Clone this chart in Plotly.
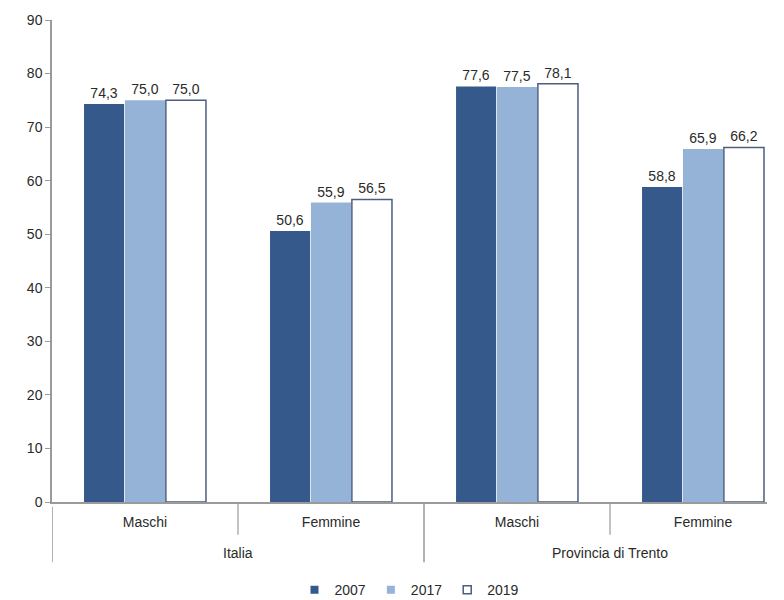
import plotly.graph_objects as go

regions = ["Italia", "Provincia di Trento"]
sexes = ["Maschi", "Femmine", "Maschi", "Femmine"]
cat_keys = ["Italia|Maschi", "Italia|Femmine", "Trento|Maschi", "Trento|Femmine"]
years = ["2007", "2017", "2019"]
v2007 = [74.3, 50.6, 77.6, 58.8]
v2017 = [75.0, 55.9, 77.5, 65.9]
v2019 = [75.0, 56.5, 78.1, 66.2]
y_ticks = [0, 10, 20, 30, 40, 50, 60, 70, 80, 90]

series = [v2007, v2017, v2019]
fills = ["#36598B", "#95B3D7", "#FFFFFF"]
lines = ["#36598B", "#95B3D7", "#4B5E80"]
lwidth = [0, 0, 1.5]
AX = "#9a9a9a"
TXT = "#2a2a2a"

fig = go.Figure()
for name, vals, fc, lc, lw in zip(years, series, fills, lines, lwidth):
    fig.add_trace(go.Bar(
        x=cat_keys, y=vals, name=name, showlegend=False,
        marker=dict(color=fc, line=dict(color=lc, width=lw)),
        text=[f"{v:.1f}".replace(".", ",") for v in vals],
        textposition="outside", cliponaxis=False,
        textfont=dict(size=14, color=TXT),
    ))
    # legend proxy
    fig.add_trace(go.Scatter(
        x=[None], y=[None], mode="markers", name=name,
        marker=dict(symbol="square", size=8, color=fc, line=dict(color=lc if lw else fc, width=1.5 if lw else 0)),
    ))

fig.update_layout(
    width=776, height=592,
    margin=dict(l=44, r=17, t=12, b=98, autoexpand=False),
    paper_bgcolor="white", plot_bgcolor="white",
    font=dict(family="Liberation Sans, Arial, sans-serif", size=14, color=TXT),
    barmode="group", bargap=0.34, bargroupgap=0.02,
    showlegend=True,
    legend=dict(orientation="h", x=0.5, xanchor="center", y=-0.183, yanchor="middle",
                font=dict(size=14, color=TXT), itemwidth=30, traceorder="normal",
                tracegroupgap=0),
    uniformtext=dict(minsize=13, mode="show"),
)
fig.update_yaxes(range=[0, 90], tickvals=y_ticks, showgrid=False, showline=True,
                 linecolor=AX, linewidth=1.5, ticks="outside", ticklen=5,
                 tickcolor=AX, zeroline=False, tickfont=dict(size=14, color=TXT),
                 automargin=False)
fig.update_xaxes(type="category", range=[-0.5, 3.344], showline=True, linecolor=AX,
                 linewidth=1.5, tickvals=cat_keys, ticktext=sexes, ticks="",
                 tickfont=dict(size=14, color=TXT), showgrid=False, automargin=False,
                 ticklabelstandoff=6)

# inner dividers (between sexes)
for pos in [0.5, 2.5]:
    fig.add_shape(type="line", xref="x", yref="paper", x0=pos, x1=pos, y0=0, y1=-0.068,
                  line=dict(color=AX, width=1.2))
# outer dividers (between regions and left edge)
for pos in [-0.5, 1.5]:
    fig.add_shape(type="line", xref="x", yref="paper", x0=pos, x1=pos, y0=0 if pos > 0 else -0.01,
                  y1=-0.125, line=dict(color=AX, width=1.5))
# outer category labels
for i, reg in enumerate(regions):
    fig.add_annotation(x=2 * i + 0.5, y=-0.106, xref="x", yref="paper", text=reg,
                       showarrow=False, yanchor="middle", font=dict(size=14, color=TXT))

fig.write_html("out.html")
